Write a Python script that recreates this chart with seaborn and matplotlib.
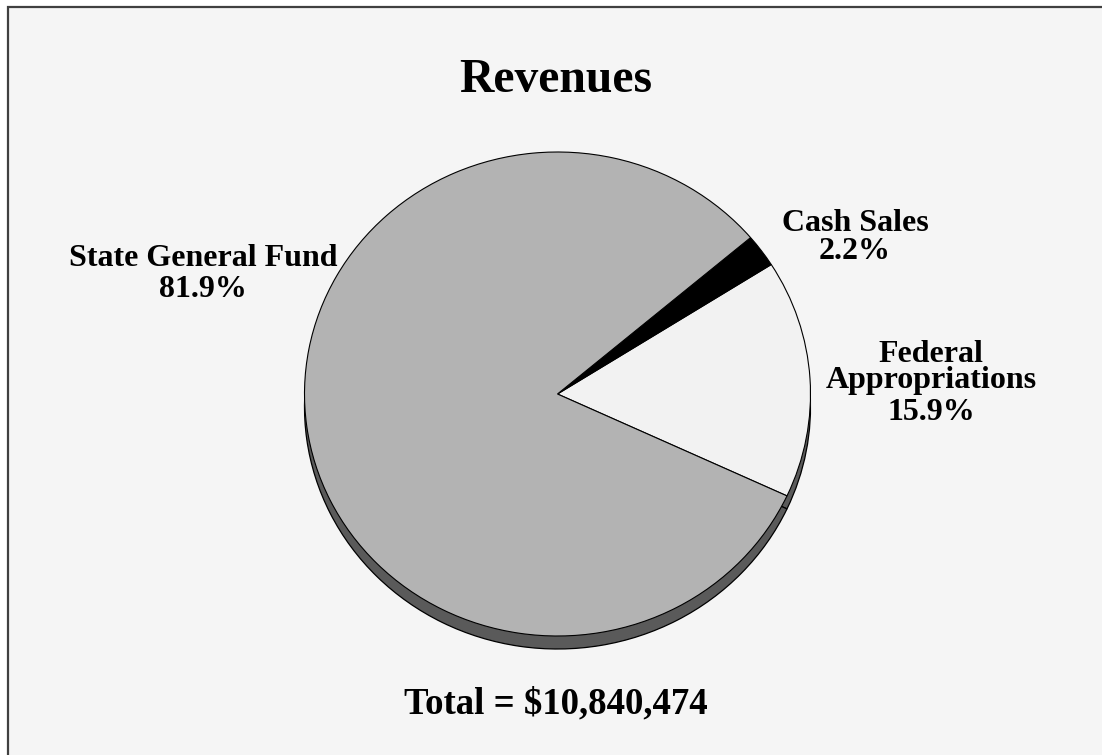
import matplotlib
matplotlib.use("Agg")
import matplotlib.pyplot as plt
import seaborn as sns
from matplotlib.patches import Rectangle

# ---- data ----
categories = ["Federal\nAppropriations", "Cash Sales", "State General Fund"]
shares = [15.9, 2.2, 81.9]
slice_colors = ["#f2f2f2", "#000000", "#b3b3b3"]
title = "Revenues"
total_text = "Total = $10,840,474"

sns.set_theme(style="white")
plt.rcParams["font.family"] = ["Liberation Serif", "DejaVu Serif"]

W, H = 1102, 755
fig = plt.figure(figsize=(W / 100, H / 100), dpi=100)
fig.patch.set_facecolor("white")

def fx(x):
    return x / W

def fy(y):
    return 1 - y / H

# background panel with border (top/left visible)
fig.patches.append(Rectangle((fx(8), fy(H + 20)), fx(W + 20), (H + 20 - 7) / H,
                             transform=fig.transFigure, facecolor="#f5f5f5",
                             edgecolor="#404040", linewidth=1.6, zorder=-5))

# pie axes: ellipse center (557.5, 394), rx 253, ry 242
cx, cy, rx, ry = 557.5, 394.0, 253.0, 242.0
ax = fig.add_axes([fx(cx - rx), fy(cy + ry), 2 * rx / W, 2 * ry / H])
ax.set_zorder(2)
ax.patch.set_alpha(0)

start = -24.9
# shadow (depth)
shadow, _ = ax.pie(shares, colors=["#5a5a5a"] * len(shares), startangle=start,
                   counterclock=True, center=(0, -13 / ry), radius=1,
                   wedgeprops=dict(edgecolor="black", linewidth=0.9, clip_on=False))
# top face
wedges, _ = ax.pie(shares, colors=slice_colors, startangle=start, counterclock=True,
                   center=(0, 0), radius=1,
                   wedgeprops=dict(edgecolor="black", linewidth=0.8, clip_on=False))
for w in shadow:
    w.set_zorder(1)
for w in wedges:
    w.set_zorder(3)
ax.set_xlim(-1, 1)
ax.set_ylim(-1, 1)
ax.set_aspect("auto")
ax.axis("off")

# ---- texts ----
bold = dict(fontweight="bold", color="black", ha="center", va="baseline")
fig.text(fx(556), fy(92), title, fontsize=34.3, **bold)

fs = 23.0
fed_lines = categories[0].split("\n") + [f"{shares[0]}%"]
for t, yb in zip(fed_lines, [361.7, 388.3, 420.0]):
    fig.text(fx(931), fy(yb), t, fontsize=fs, **bold)
for t, yb in zip([categories[1], f"{shares[1]}%"], [231.0, 259.3]):
    fig.text(fx(855), fy(yb), t, fontsize=fs, **bold)
for t, yb in zip([categories[2], f"{shares[2]}%"], [265.7, 296.7]):
    fig.text(fx(203), fy(yb), t, fontsize=fs, **bold)

fig.text(fx(556), fy(713), total_text, fontsize=26.5, **bold)

fig.savefig("out.png", dpi=100, facecolor=fig.get_facecolor())
